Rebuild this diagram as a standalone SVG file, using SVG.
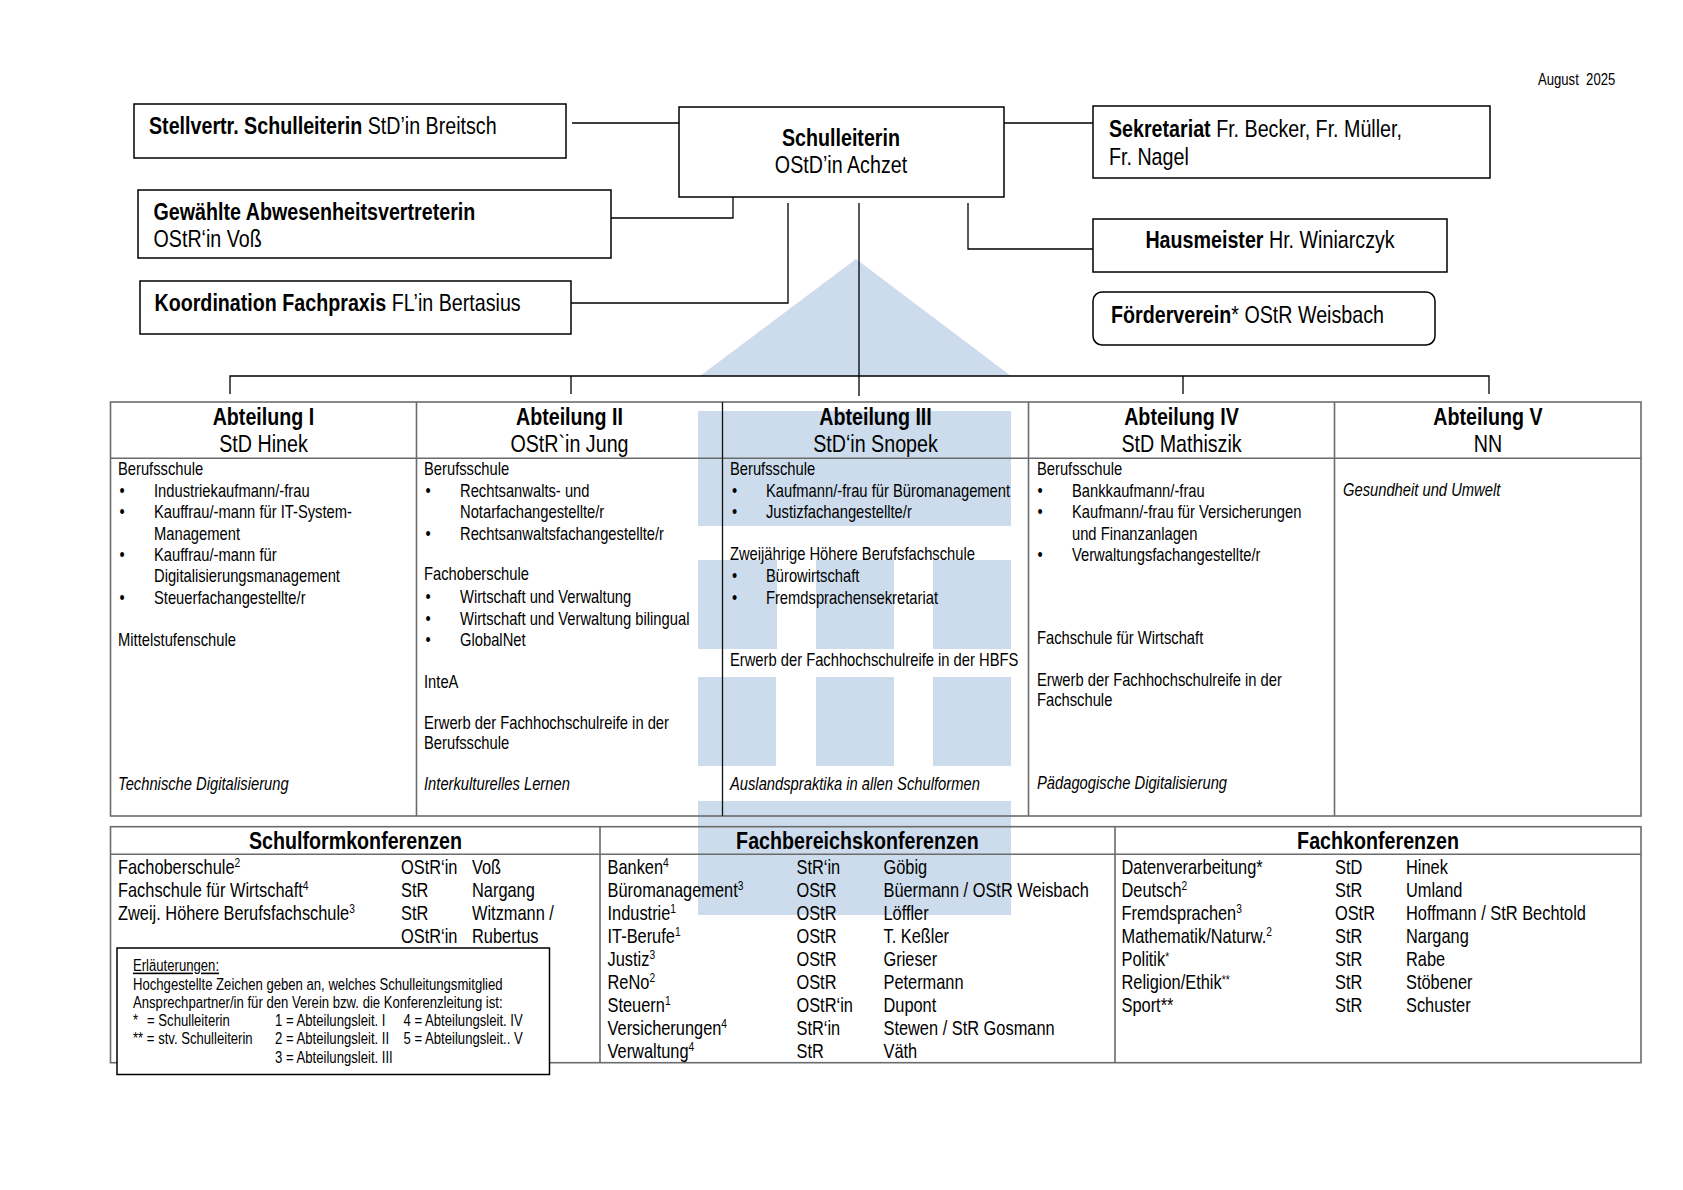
<svg xmlns="http://www.w3.org/2000/svg" width="1683" height="1190" viewBox="0 0 1683 1190">
<style>
text{font-family:"Liberation Sans Narrow","Liberation Sans",Arial,sans-serif;fill:#000}
.h{font-size:24px;font-weight:bold}
.n{font-size:24px}
.bd{font-weight:bold}
.b{font-size:18px}
.i{font-style:italic}
.r{font-size:20px}
.l{font-size:16px}
.d{font-size:16px}
.c{text-anchor:middle}
.sup{font-size:12.5px}
.box{fill:#fff;stroke:#000;stroke-width:1.5}
.tbl{fill:none;stroke:#6b6b6b;stroke-width:1.6}
.wm{fill:#ccdcec}
.con{fill:none;stroke:#000;stroke-width:1.3}
</style>
<rect width="1683" height="1190" fill="#fff"/>
<g id="watermark">
<polygon class="wm" points="856,259 700,376 1011,376"/>
<rect class="wm" x="698" y="411" width="313" height="115"/>
<rect class="wm" x="698" y="560" width="79" height="89"/>
<rect class="wm" x="816" y="560" width="78" height="89"/>
<rect class="wm" x="933" y="560" width="78" height="89"/>
<rect class="wm" x="698" y="677" width="78" height="89"/>
<rect class="wm" x="816" y="677" width="78" height="89"/>
<rect class="wm" x="933" y="677" width="78" height="89"/>
<rect class="wm" x="698" y="801" width="313" height="114"/>
</g>
<g id="datum" transform="scale(.82 1)">
<text class="d" x="1875.6" y="85" style="white-space:pre">August  2025</text>
</g>
<g id="connectors">
<path class="con" d="M572 123H679M1004 123H1093M611 218H733V197M571 303H788V203M968 203V249H1093M859 203V396"/>
<path class="con" d="M230 394V376H1489V394M571 376V394M1183 376V394"/>
</g>
<g id="schulleiterin">
<rect class="box" x="679" y="107" width="325" height="90"/>
<g transform="scale(.82 1)">
<text class="h c" x="1025.6" y="146.5">Schulleiterin</text>
<text class="n c" x="1025.6" y="173.5">OStD’in Achzet</text>
</g>
</g>
<g id="stellvertr">
<rect class="box" x="134" y="104" width="432" height="54"/>
<g transform="scale(.82 1)">
<text class="n" x="181.7" y="134.5"><tspan class="bd">Stellvertr. Schulleiterin</tspan> StD’in Breitsch</text>
</g>
</g>
<g id="abwesenheit">
<rect class="box" x="138" y="190" width="473" height="68"/>
<g transform="scale(.82 1)">
<text class="h" x="187.2" y="220.5">Gewählte Abwesenheitsvertreterin</text>
<text class="n" x="187.2" y="247.2">OStR‘in Voß</text>
</g>
</g>
<g id="koordination">
<rect class="box" x="140" y="281" width="431" height="53"/>
<g transform="scale(.82 1)">
<text class="n" x="188.4" y="310.6"><tspan class="bd">Koordination Fachpraxis</tspan> FL’in Bertasius</text>
</g>
</g>
<g id="sekretariat">
<rect class="box" x="1093" y="106" width="397" height="72"/>
<g transform="scale(.82 1)">
<text class="n" x="1352.4" y="136.7"><tspan class="bd">Sekretariat</tspan> Fr. Becker, Fr. Müller,</text>
<text class="n" x="1352.4" y="164.6">Fr. Nagel</text>
</g>
</g>
<g id="hausmeister">
<rect class="box" x="1093" y="219" width="354" height="53"/>
<g transform="scale(.82 1)">
<text class="n c" x="1548.8" y="248.3"><tspan class="bd">Hausmeister</tspan> Hr. Winiarczyk</text>
</g>
</g>
<g id="foerderverein">
<rect class="box" x="1093" y="292" width="342" height="53" rx="9"/>
<g transform="scale(.82 1)">
<text class="n" x="1354.9" y="323.5"><tspan class="bd">Förderverein</tspan>* OStR Weisbach</text>
</g>
</g>
<g id="abteilungen-tabelle">
<rect class="tbl" x="110.5" y="402" width="1530.5" height="414"/>
<path class="tbl" d="M110.5 458.3H1641M416.5 402V816M1028.5 402V816M1334.5 402V816"/>
<path fill="none" stroke="#111" stroke-width="1.3" d="M722.5 402V816"/>
</g>
<g id="abteilung1" transform="scale(.82 1)">
<text class="h c" x="321.3" y="425.5">Abteilung I</text>
<text class="n c" x="321.3" y="452">StD Hinek</text>
<text class="b" x="143.9" y="475">Berufsschule</text>
<text class="b c" x="148.8" y="496.7">•</text><text class="b" x="187.8" y="496.7">Industriekaufmann/-frau</text>
<text class="b c" x="148.8" y="518.3">•</text><text class="b" x="187.8" y="518.3">Kauffrau/-mann für IT-System-</text>
<text class="b" x="187.8" y="540">Management</text>
<text class="b c" x="148.8" y="561">•</text><text class="b" x="187.8" y="561">Kauffrau/-mann für</text>
<text class="b" x="187.8" y="582.3">Digitalisierungsmanagement</text>
<text class="b c" x="148.8" y="604">•</text><text class="b" x="187.8" y="604">Steuerfachangestellte/r</text>
<text class="b" x="143.9" y="645.7">Mittelstufenschule</text>
<text class="b i" x="143.9" y="790">Technische Digitalisierung</text>
</g>
<g id="abteilung2" transform="scale(.82 1)">
<text class="h c" x="694.5" y="425.5">Abteilung II</text>
<text class="n c" x="694.5" y="452">OStR`in Jung</text>
<text class="b" x="517.1" y="475">Berufsschule</text>
<text class="b c" x="522" y="496.7">•</text><text class="b" x="561" y="496.7">Rechtsanwalts- und</text>
<text class="b" x="561" y="518.3">Notarfachangestellte/r</text>
<text class="b c" x="522" y="540">•</text><text class="b" x="561" y="540">Rechtsanwaltsfachangestellte/r</text>
<text class="b" x="517.1" y="580.5">Fachoberschule</text>
<text class="b c" x="522" y="603">•</text><text class="b" x="561" y="603">Wirtschaft und Verwaltung</text>
<text class="b c" x="522" y="625">•</text><text class="b" x="561" y="625">Wirtschaft und Verwaltung bilingual</text>
<text class="b c" x="522" y="646.5">•</text><text class="b" x="561" y="646.5">GlobalNet</text>
<text class="b" x="517.1" y="687.6">InteA</text>
<text class="b" x="517.1" y="728.6">Erwerb der Fachhochschulreife in der</text>
<text class="b" x="517.1" y="749.5">Berufsschule</text>
<text class="b i" x="517.1" y="790.5">Interkulturelles Lernen</text>
</g>
<g id="abteilung3" transform="scale(.82 1)">
<text class="h c" x="1067.7" y="425.5">Abteilung III</text>
<text class="n c" x="1067.7" y="452">StD‘in Snopek</text>
<text class="b" x="890.2" y="475">Berufsschule</text>
<text class="b c" x="895.7" y="496.7">•</text><text class="b" x="934.1" y="496.7">Kaufmann/-frau für Büromanagement</text>
<text class="b c" x="895.7" y="518.3">•</text><text class="b" x="934.1" y="518.3">Justizfachangestellte/r</text>
<text class="b" x="890.2" y="560">Zweijährige Höhere Berufsfachschule</text>
<text class="b c" x="895.7" y="582.3">•</text><text class="b" x="934.1" y="582.3">Bürowirtschaft</text>
<text class="b c" x="895.7" y="604.3">•</text><text class="b" x="934.1" y="604.3">Fremdsprachensekretariat</text>
<text class="b" x="890.2" y="666">Erwerb der Fachhochschulreife in der HBFS</text>
<text class="b i" x="890.2" y="790">Auslandspraktika in allen Schulformen</text>
</g>
<g id="abteilung4" transform="scale(.82 1)">
<text class="h c" x="1440.9" y="425.5">Abteilung IV</text>
<text class="n c" x="1440.9" y="452">StD Mathiszik</text>
<text class="b" x="1264.6" y="475">Berufsschule</text>
<text class="b c" x="1268.3" y="496.7">•</text><text class="b" x="1307.3" y="496.7">Bankkaufmann/-frau</text>
<text class="b c" x="1268.3" y="518.3">•</text><text class="b" x="1307.3" y="518.3">Kaufmann/-frau für Versicherungen</text>
<text class="b" x="1307.3" y="540">und Finanzanlagen</text>
<text class="b c" x="1268.3" y="561.3">•</text><text class="b" x="1307.3" y="561.3">Verwaltungsfachangestellte/r</text>
<text class="b" x="1264.6" y="644.3">Fachschule für Wirtschaft</text>
<text class="b" x="1264.6" y="685.7">Erwerb der Fachhochschulreife in der</text>
<text class="b" x="1264.6" y="706">Fachschule</text>
<text class="b i" x="1264.6" y="789">Pädagogische Digitalisierung</text>
</g>
<g id="abteilung5" transform="scale(.82 1)">
<text class="h c" x="1814.6" y="425.5">Abteilung V</text>
<text class="n c" x="1814.6" y="452">NN</text>
<text class="b i" x="1637.8" y="496">Gesundheit und Umwelt</text>
</g>
<g id="konferenzen-tabelle">
<rect class="tbl" x="110.5" y="826.7" width="1530.5" height="236"/>
<path class="tbl" d="M110.5 854.3H1641M600 826.7V1062.7M1115 826.7V1062.7"/>
</g>
<g id="schulformkonferenzen" transform="scale(.82 1)">
<text class="h c" x="433.5" y="849.5">Schulformkonferenzen</text>
<text class="r" x="143.9" y="874.5">Fachoberschule<tspan class="sup" dy="-7">2</tspan></text>
<text class="r" x="489" y="874.5">OStR‘in</text><text class="r" x="575.6" y="874.5">Voß</text>
<text class="r" x="143.9" y="897.4">Fachschule für Wirtschaft<tspan class="sup" dy="-7">4</tspan></text>
<text class="r" x="489" y="897.4">StR</text><text class="r" x="575.6" y="897.4">Nargang</text>
<text class="r" x="143.9" y="920.3">Zweij. Höhere Berufsfachschule<tspan class="sup" dy="-7">3</tspan></text>
<text class="r" x="489" y="920.3">StR</text><text class="r" x="575.6" y="920.3">Witzmann /</text>
<text class="r" x="489" y="943.2">OStR‘in</text><text class="r" x="575.6" y="943.2">Rubertus</text>
</g>
<g id="fachbereichskonferenzen" transform="scale(.82 1)">
<text class="h c" x="1045.7" y="849.5">Fachbereichskonferenzen</text>
<text class="r" x="740.9" y="874.5">Banken<tspan class="sup" dy="-7">4</tspan></text>
<text class="r" x="971.3" y="874.5">StR‘in</text><text class="r" x="1077.4" y="874.5">Göbig</text>
<text class="r" x="740.9" y="897.4">Büromanagement<tspan class="sup" dy="-7">3</tspan></text>
<text class="r" x="971.3" y="897.4">OStR</text><text class="r" x="1077.4" y="897.4">Büermann / OStR Weisbach</text>
<text class="r" x="740.9" y="920.3">Industrie<tspan class="sup" dy="-7">1</tspan></text>
<text class="r" x="971.3" y="920.3">OStR</text><text class="r" x="1077.4" y="920.3">Löffler</text>
<text class="r" x="740.9" y="943.2">IT-Berufe<tspan class="sup" dy="-7">1</tspan></text>
<text class="r" x="971.3" y="943.2">OStR</text><text class="r" x="1077.4" y="943.2">T. Keßler</text>
<text class="r" x="740.9" y="966.1">Justiz<tspan class="sup" dy="-7">3</tspan></text>
<text class="r" x="971.3" y="966.1">OStR</text><text class="r" x="1077.4" y="966.1">Grieser</text>
<text class="r" x="740.9" y="989">ReNo<tspan class="sup" dy="-7">2</tspan></text>
<text class="r" x="971.3" y="989">OStR</text><text class="r" x="1077.4" y="989">Petermann</text>
<text class="r" x="740.9" y="1011.9">Steuern<tspan class="sup" dy="-7">1</tspan></text>
<text class="r" x="971.3" y="1011.9">OStR‘in</text><text class="r" x="1077.4" y="1011.9">Dupont</text>
<text class="r" x="740.9" y="1034.8">Versicherungen<tspan class="sup" dy="-7">4</tspan></text>
<text class="r" x="971.3" y="1034.8">StR‘in</text><text class="r" x="1077.4" y="1034.8">Stewen / StR Gosmann</text>
<text class="r" x="740.9" y="1057.7">Verwaltung<tspan class="sup" dy="-7">4</tspan></text>
<text class="r" x="971.3" y="1057.7">StR</text><text class="r" x="1077.4" y="1057.7">Väth</text>
</g>
<g id="fachkonferenzen" transform="scale(.82 1)">
<text class="h c" x="1680.5" y="849.5">Fachkonferenzen</text>
<text class="r" x="1367.7" y="874.5">Datenverarbeitung*</text>
<text class="r" x="1628" y="874.5">StD</text><text class="r" x="1714.6" y="874.5">Hinek</text>
<text class="r" x="1367.7" y="897.4">Deutsch<tspan class="sup" dy="-7">2</tspan></text>
<text class="r" x="1628" y="897.4">StR</text><text class="r" x="1714.6" y="897.4">Umland</text>
<text class="r" x="1367.7" y="920.3">Fremdsprachen<tspan class="sup" dy="-7">3</tspan></text>
<text class="r" x="1628" y="920.3">OStR</text><text class="r" x="1714.6" y="920.3">Hoffmann / StR Bechtold</text>
<text class="r" x="1367.7" y="943.2">Mathematik/Naturw.<tspan class="sup" dy="-7">2</tspan></text>
<text class="r" x="1628" y="943.2">StR</text><text class="r" x="1714.6" y="943.2">Nargang</text>
<text class="r" x="1367.7" y="966.1">Politik<tspan class="sup" dy="-5">*</tspan></text>
<text class="r" x="1628" y="966.1">StR</text><text class="r" x="1714.6" y="966.1">Rabe</text>
<text class="r" x="1367.7" y="989">Religion/Ethik<tspan class="sup" dy="-5">**</tspan></text>
<text class="r" x="1628" y="989">StR</text><text class="r" x="1714.6" y="989">Stöbener</text>
<text class="r" x="1367.7" y="1011.9">Sport**</text>
<text class="r" x="1628" y="1011.9">StR</text><text class="r" x="1714.6" y="1011.9">Schuster</text>
</g>
<g id="erlaeuterungen">
<rect class="box" x="117" y="948" width="432.5" height="126.5"/>
<g transform="scale(.82 1)">
<text class="l" x="162.2" y="971.5" text-decoration="underline">Erläuterungen:</text>
<text class="l" x="162.2" y="989.7">Hochgestellte Zeichen geben an, welches Schulleitungsmitglied</text>
<text class="l" x="162.2" y="1008">Ansprechpartner/in für den Verein bzw. die Konferenzleitung ist:</text>
<text class="l" x="162.2" y="1026.2">*</text><text class="l" x="179.3" y="1026.2">= Schulleiterin</text>
<text class="l" x="335.4" y="1026.2">1 = Abteilungsleit. I</text>
<text class="l" x="492.1" y="1026.2">4 = Abteilungsleit. IV</text>
<text class="l" x="162.2" y="1044.5">** = stv. Schulleiterin</text>
<text class="l" x="335.4" y="1044.5">2 = Abteilungsleit. II</text>
<text class="l" x="492.1" y="1044.5">5 = Abteilungsleit.. V</text>
<text class="l" x="335.4" y="1062.7">3 = Abteilungsleit. III</text>
</g>
</g>
</svg>
